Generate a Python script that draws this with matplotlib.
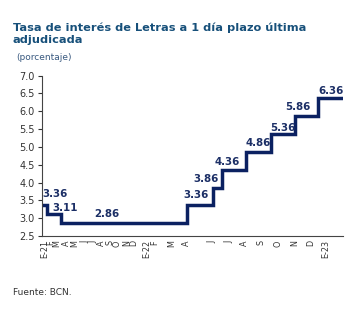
import matplotlib.pyplot as plt

# observation index (auction number) where each rate level starts
change_idx = [0, 5, 19, 146, 172, 181, 205, 231, 255, 278]
rates = [3.36, 3.11, 2.86, 3.36, 3.86, 4.36, 4.86, 5.36, 5.86, 6.36]
last_idx = 303

# month labels and the observation index where each month begins
month_idx = [3, 9, 15, 25, 33, 43, 51, 60, 68, 76, 85, 92, 105, 114, 131, 145,
             171, 188, 204, 221, 238, 255, 271, 286]
month_lbl = ["E-21", "F", "M", "A", "M", "J", "J", "A", "S", "O", "N", "D",
             "E-22", "F", "M", "A", "J", "J", "A", "S", "O", "N", "D", "E-23"]

# data label positions (x in observation index, y in percent)
lbl_x = [13, 23, 65, 155, 165, 187, 218, 243, 258, 291]
lbl_y = [3.68, 3.28, 3.11, 3.65, 4.09, 4.58, 5.11, 5.53, 6.12, 6.57]

NAVY = "#0b2161"
TITLE = "#17507a"
GREY = "#333333"

fig = plt.figure(figsize=(3.59, 3.23), dpi=100)
ax = fig.add_axes([0.117, 0.269, 0.838, 0.497])

xs = change_idx + [last_idx]
ys = rates + [rates[-1]]
ax.step(xs, ys, where="post", color=NAVY, lw=2.5, solid_joinstyle="miter")

for v, x, y in zip(rates, lbl_x, lbl_y):
    ax.text(x, y, f"{v:.2f}", ha="center", va="center", fontsize=7.4,
            fontweight="bold", color="#1c2f66")

ax.set_xlim(0, last_idx)
ax.set_ylim(2.5, 7.0)
ax.set_yticks([2.5 + 0.5 * i for i in range(10)])
ax.set_yticklabels([f"{2.5 + 0.5 * i:.1f}" for i in range(10)])
ax.set_xticks(month_idx)
ax.set_xticklabels(month_lbl, rotation=90, fontsize=5.8, color=GREY)
ax.tick_params(axis="x", length=0, pad=3)
ax.tick_params(axis="y", length=3, width=0.8, labelsize=7, colors=GREY, pad=2)
ax.spines["top"].set_visible(False)
ax.spines["right"].set_visible(False)
ax.spines["left"].set_color("#444444")
ax.spines["bottom"].set_color("#444444")

fig.text(0.036, 0.895, "Tasa de interés de Letras a 1 día plazo última\nadjudicada",
         fontsize=8.2, fontweight="bold", color=TITLE, va="center", linespacing=1.2)
fig.text(0.045, 0.822, "(porcentaje)", fontsize=6.5, color="#3a5a80", va="center")
fig.text(0.036, 0.093, "Fuente: BCN.", fontsize=6.5, color=GREY, va="center")

fig.savefig("out.png", dpi=100, facecolor="white")
